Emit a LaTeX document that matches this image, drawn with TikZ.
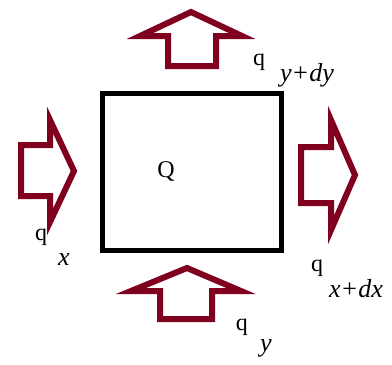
\documentclass[tikz,border=0pt]{standalone}
\usepackage{fontspec}
\setmainfont{Liberation Serif}
\definecolor{arrowred}{RGB}{128,0,32}
\begin{document}
\begin{tikzpicture}[x=1pt,y=-1pt,
  flowarrow/.style={draw=arrowred,line width=6pt,line join=miter},
  lbl/.style={inner sep=0pt,font=\fontsize{24}{26}\selectfont},
  sub/.style={inner sep=0pt,font=\fontsize{26}{28}\selectfont\itshape}]
\useasboundingbox (0,0) rectangle (392,365);
% control volume
\draw[line width=5pt] (102,93) rectangle (281,250);
\node[inner sep=0pt,font=\fontsize{24}{26}\selectfont] (Q) at (166,171) {Q};
% top arrow
\draw[flowarrow] (191,12) -- (242,36) -- (216,36) -- (216,66) -- (168,66) -- (168,36) -- (140,36) -- cycle;
% bottom arrow
\draw[flowarrow] (187,268) -- (241,291) -- (212,291) -- (212,319) -- (160,319) -- (160,291) -- (131,291) -- cycle;
% left arrow
\draw[flowarrow] (74,171) -- (50,222) -- (50,196) -- (21,196) -- (21,145) -- (50,145) -- (50,120) -- cycle;
% right arrow
\draw[flowarrow] (355,175) -- (331,230) -- (331,203) -- (301,203) -- (301,147) -- (331,147) -- (331,120) -- cycle;
% labels
\node[lbl] (qt) at (259,62) {q};
\node[sub,anchor=west] (qts) at (280,75) {y+dy};
\node[lbl] (ql) at (41,237) {q};
\node[sub] (qls) at (64,260) {x};
\node[lbl] (qr) at (317,268) {q};
\node[sub,anchor=west] (qrs) at (329,289) {x+dx};
\node[lbl] (qb) at (242,327) {q};
\node[sub] (qbs) at (266,348) {y};
\end{tikzpicture}
\end{document}
